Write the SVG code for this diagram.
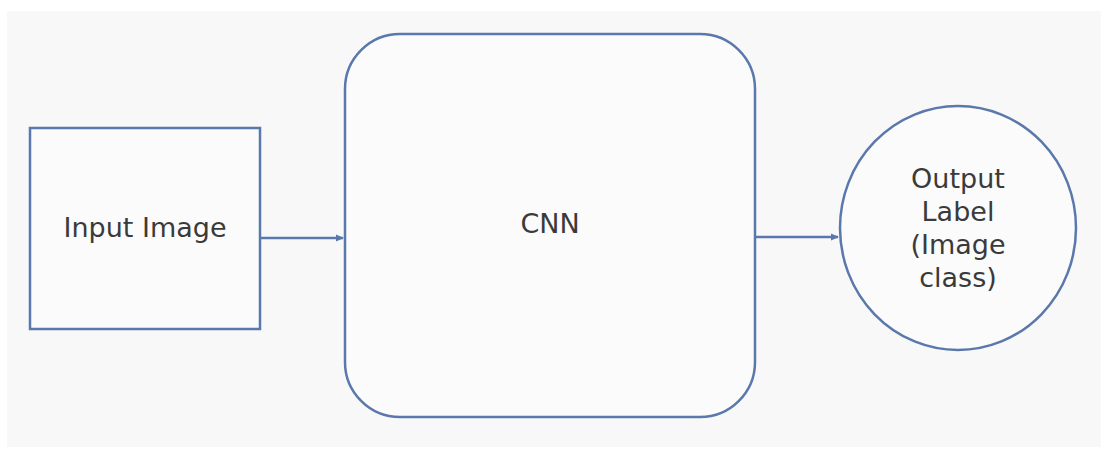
<svg xmlns="http://www.w3.org/2000/svg" width="1108" height="459" viewBox="0 0 1108 459">
<style>
.shape{fill:#fbfbfb;stroke:#5a78ab;stroke-width:2.5}
.lbl{font-family:"DejaVu Sans","Liberation Sans",sans-serif;font-size:27px;fill:#3a3a3a;text-anchor:middle}
.conn{stroke:#5a78ab;stroke-width:2.5;fill:none}
</style>
<defs>
<marker id="ah" markerWidth="8" markerHeight="8" refX="7" refY="4" orient="auto" markerUnits="userSpaceOnUse">
<path d="M0,0.5 L8,4 L0,7.5 Z" fill="#5a78ab"/>
</marker>
</defs>
<rect x="0" y="0" width="1108" height="459" fill="#ffffff"/>
<rect x="7" y="11" width="1094" height="436" fill="#f8f8f8"/>
<g id="input">
<rect class="shape" x="30" y="128" width="230" height="201"/>
<text class="lbl" x="145" y="237">Input Image</text>
</g>
<g id="cnn">
<rect class="shape" x="345" y="34" width="410" height="383" rx="55" ry="55"/>
<text class="lbl" x="550" y="233">CNN</text>
</g>
<g id="output">
<ellipse class="shape" cx="958" cy="228" rx="118" ry="122"/>
<text class="lbl" x="958" y="188">Output</text>
<text class="lbl" x="958" y="221">Label</text>
<text class="lbl" x="958" y="254">(Image</text>
<text class="lbl" x="958" y="287">class)</text>
</g>
<g id="connectors">
<line class="conn" x1="261" y1="238" x2="343" y2="238" marker-end="url(#ah)"/>
<line class="conn" x1="756" y1="237" x2="838" y2="237" marker-end="url(#ah)"/>
</g>
</svg>
